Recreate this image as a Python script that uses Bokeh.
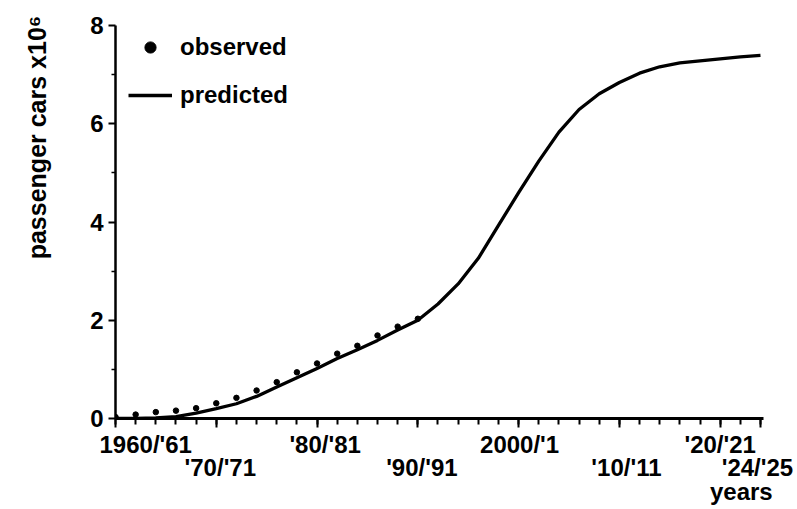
from bokeh.plotting import figure
from bokeh.models import (Range1d, FixedTicker, Legend, LegendItem, LinearAxis,
                          CustomJSTickFormatter, ColumnDataSource)
from bokeh.embed import file_html
from bokeh.resources import INLINE

# ---- data ----
obs_years = [1960, 1962, 1964, 1966, 1968, 1970, 1972, 1974, 1976, 1978,
             1980, 1982, 1984, 1986, 1988, 1990]
obs_values = [0.03, 0.08, 0.13, 0.16, 0.21, 0.31, 0.42, 0.57, 0.74, 0.94,
              1.12, 1.32, 1.48, 1.69, 1.87, 2.03]

pred_years = [1960, 1962, 1964, 1966, 1968, 1970, 1972, 1974, 1976, 1978,
              1980, 1982, 1984, 1986, 1988, 1990, 1992, 1994, 1996, 1998,
              2000, 2002, 2004, 2006, 2008, 2010, 2012, 2014, 2016, 2018,
              2020, 2022, 2024]
pred_values = [0.00, 0.00, 0.01, 0.04, 0.11, 0.20, 0.30, 0.45, 0.64, 0.83,
               1.02, 1.22, 1.40, 1.59, 1.80, 2.00, 2.33, 2.74, 3.26, 3.93,
               4.60, 5.24, 5.83, 6.29, 6.61, 6.84, 7.03, 7.16, 7.24, 7.28,
               7.32, 7.36, 7.39]

row1_ticks = [1960, 1980, 2000, 2020]
row1_labels = ["1960/'61", "'80/'81", "2000/'1", "'20/'21"]
row2_ticks = [1970, 1990, 2010, 2024]
row2_labels = ["'70/'71", "'90/'91", "'10/'11", "'24/'25"]
x_title = "years"
y_title = "passenger cars x10\u2076"

y_ticks = [0, 2, 4, 6, 8]
y_minor = [1, 3, 5, 7]
x_major = [1960, 1970, 1980, 1990, 2000, 2010, 2020, 2024]
x_minor = list(range(1960, 2025, 2))

FONT = "Liberation Sans"
FS = "24px"

# label placement shifts (layout only, in axis units)
row1_shift = [3.0, 0.8, 0.1, 0.0]
row2_shift = [0.4, 0.4, 0.7, -0.3]
x_title_pos = 2022.1
y_title_pos = 5.72

p = figure(width=797, height=509, output_backend="svg", toolbar_location=None,
           x_range=Range1d(1960, 2024.3), y_range=Range1d(0, 8),
           min_border_left=115, min_border_right=34, min_border_top=25,
           min_border_bottom=91)
p.outline_line_color = None
p.xgrid.visible = False
p.ygrid.visible = False
p.background_fill_color = "white"
p.border_fill_color = "white"

src_p = ColumnDataSource(dict(x=pred_years, y=pred_values))
src_o = ColumnDataSource(dict(x=obs_years, y=obs_values))
r_pred = p.line("x", "y", source=src_p, line_color="black", line_width=3.3,
                line_join="round")
r_obs = p.scatter("x", "y", source=src_o, marker="circle", size=5.5,
                  fill_color="black", line_color="black")

# main x axis: line and ticks only
xa = p.xaxis[0]
xa.ticker = FixedTicker(ticks=x_major, minor_ticks=x_minor)
xa.formatter = CustomJSTickFormatter(code="return ''")
xa.major_label_text_font_size = "1px"
xa.major_label_standoff = 0
xa.axis_line_width = 3
xa.major_tick_line_width = 2
xa.minor_tick_line_width = 2
xa.major_tick_out = 9
xa.major_tick_in = 0
xa.minor_tick_out = 6
xa.minor_tick_in = 0


def label_axis(positions, labels, orientation="horizontal", standoff=0,
               size=FS):
    ax = LinearAxis(ticker=FixedTicker(ticks=positions, minor_ticks=[]),
                    formatter=CustomJSTickFormatter(args=dict(labels=labels),
                                                    code="return labels[index]"))
    ax.axis_line_color = None
    ax.major_tick_line_color = None
    ax.minor_tick_line_color = None
    ax.major_tick_out = 0
    ax.major_tick_in = 0
    ax.minor_tick_out = 0
    ax.minor_tick_in = 0
    ax.major_label_standoff = standoff
    ax.major_label_orientation = orientation
    ax.major_label_text_font = FONT
    ax.major_label_text_font_style = "bold"
    ax.major_label_text_font_size = size
    ax.major_label_text_color = "black"
    return ax


p.add_layout(label_axis([t + s for t, s in zip(row1_ticks, row1_shift)],
                        row1_labels, standoff=3), "below")
p.add_layout(label_axis([t + s for t, s in zip(row2_ticks, row2_shift)],
                        row2_labels, standoff=-7), "below")
p.add_layout(label_axis([x_title_pos], [x_title], standoff=-6), "below")

# y axis
ya = p.yaxis[0]
ya.ticker = FixedTicker(ticks=y_ticks, minor_ticks=y_minor)
ya.axis_line_width = 2.5
ya.major_tick_line_width = 2
ya.minor_tick_line_width = 1.5
ya.major_tick_out = 7
ya.major_tick_in = 0
ya.minor_tick_out = 4
ya.minor_tick_in = 0
ya.major_label_text_font = FONT
ya.major_label_text_font_style = "bold"
ya.major_label_text_font_size = FS
ya.major_label_text_color = "black"
ya.major_label_standoff = 5

p.add_layout(label_axis([y_title_pos], [y_title], orientation="parallel",
                        standoff=36, size="25px"), "left")

legend = Legend(items=[LegendItem(label="observed", renderers=[r_obs]),
                       LegendItem(label="predicted", renderers=[r_pred])],
                location=(13, 309), glyph_width=44, glyph_height=28,
                label_height=28, spacing=20, label_standoff=8, padding=0,
                margin=0, border_line_color=None, background_fill_alpha=0,
                label_text_font=FONT, label_text_font_style="bold",
                label_text_font_size=FS, label_text_color="black")
p.add_layout(legend)

open("out.html", "w").write(file_html(p, INLINE))
